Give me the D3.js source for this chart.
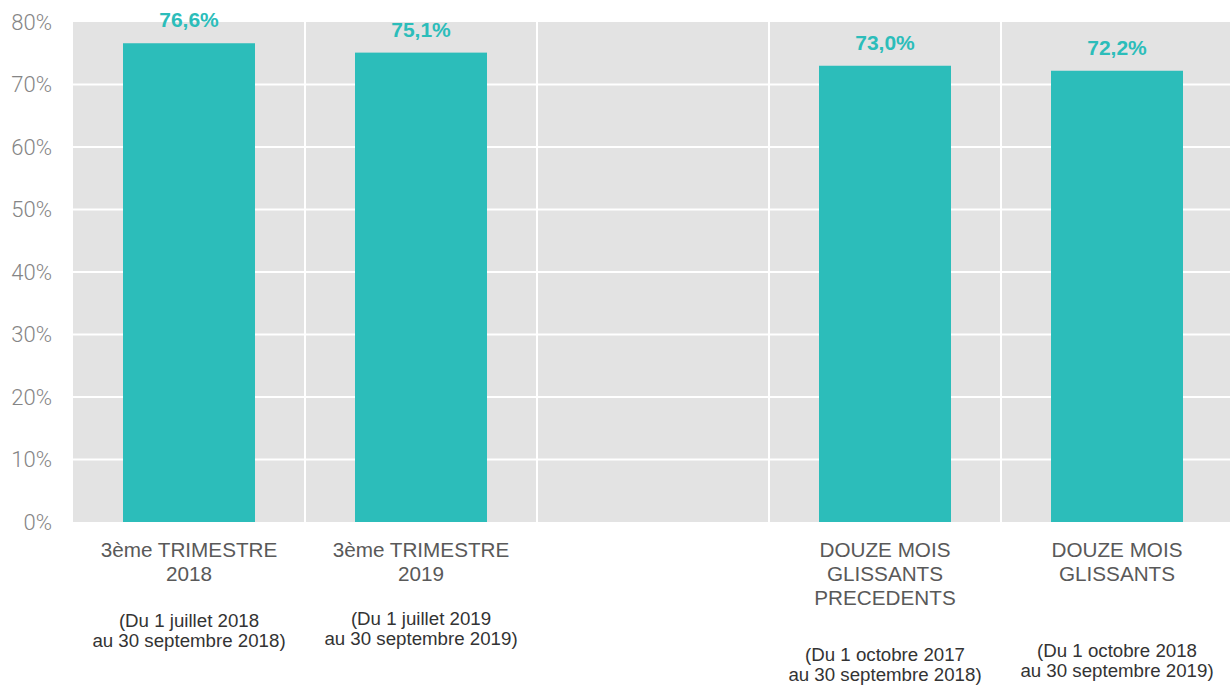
<!DOCTYPE html>
<html>
<head>
<meta charset="utf-8">
<script src="https://cdn.jsdelivr.net/npm/d3@7"></script>
<style>
  html, body { margin: 0; padding: 0; background: #fff; }
  svg { display: block; }
</style>
</head>
<body>
<svg id="chart" width="1230" height="686"></svg>
<script>
// ---- data ----
const categories = ["T3 2018", "T3 2019", "gap", "12M prec", "12M"];
const values = [76.6, 75.1, null, 73.0, 72.2];
const labelLines = [
  ["3ème TRIMESTRE", "2018"],
  ["3ème TRIMESTRE", "2019"],
  [],
  ["DOUZE MOIS", "GLISSANTS", "PRECEDENTS"],
  ["DOUZE MOIS", "GLISSANTS"]
];
const periodLines = [
  ["(Du 1 juillet 2018", "au 30 septembre 2018)"],
  ["(Du 1 juillet 2019", "au 30 septembre 2019)"],
  [],
  ["(Du 1 octobre 2017", "au 30 septembre 2018)"],
  ["(Du 1 octobre 2018", "au 30 septembre 2019)"]
];
const yTicks = [0, 10, 20, 30, 40, 50, 60, 70, 80];

// ---- layout ----
const plot = { left: 73, right: 1233, top: 22, bottom: 522 };
const periodBaseline = [627, 625, 0, 661, 657];

const svg = d3.select("#chart");

const x = d3.scaleBand()
  .domain(categories)
  .range([plot.left, plot.right])
  .paddingInner(100 / 232)
  .paddingOuter(50 / 232);

const y = d3.scaleLinear().domain([0, 80]).range([plot.bottom, plot.top]);

// background
svg.append("rect")
  .attr("x", plot.left).attr("y", plot.top)
  .attr("width", plot.right - plot.left).attr("height", plot.bottom - plot.top)
  .attr("fill", "#e3e3e3");

// horizontal gridlines
svg.append("g").selectAll("line")
  .data(yTicks.filter(d => d > 0 && d < 80))
  .join("line")
  .attr("x1", plot.left).attr("x2", plot.right)
  .attr("y1", d => y(d)).attr("y2", d => y(d))
  .attr("stroke", "#fff").attr("stroke-width", 2);

// vertical gridlines at band boundaries
const step = x.step();
svg.append("g").selectAll("line")
  .data(categories.slice(1))
  .join("line")
  .attr("x1", d => x(d) - x.paddingInner() * step / 2)
  .attr("x2", d => x(d) - x.paddingInner() * step / 2)
  .attr("y1", plot.top).attr("y2", plot.bottom)
  .attr("stroke", "#fff").attr("stroke-width", 2);

// y axis
const yAxis = d3.axisLeft(y)
  .tickValues(yTicks)
  .tickSize(0)
  .tickPadding(21)
  .tickFormat(d => d + "%");
const ga = svg.append("g")
  .attr("transform", `translate(${plot.left},0)`)
  .call(yAxis);
ga.select(".domain").remove();
ga.selectAll("text")
  .attr("font-family", "Roboto, sans-serif")
  .attr("font-weight", 300)
  .attr("font-size", 22)
  .attr("fill", "#858585");

// bars
const rows = categories.map((c, i) => ({ c, v: values[i], i }));
svg.append("g").selectAll("rect")
  .data(rows.filter(d => d.v != null))
  .join("rect")
  .attr("x", d => x(d.c))
  .attr("width", x.bandwidth())
  .attr("y", d => y(d.v))
  .attr("height", d => y(0) - y(d.v))
  .attr("fill", "#2cbdba");

// value labels
const fmt = d3.format(".1f");
svg.append("g").selectAll("text")
  .data(rows.filter(d => d.v != null))
  .join("text")
  .attr("x", d => x(d.c) + x.bandwidth() / 2)
  .attr("y", d => y(d.v) - 16)
  .attr("text-anchor", "middle")
  .attr("font-family", "'Liberation Sans', Arial, sans-serif")
  .attr("font-weight", "bold")
  .attr("font-size", 21)
  .attr("fill", "#2cbdba")
  .text(d => fmt(d.v).replace(".", ",") + "%");

// category labels
const catG = svg.append("g");
rows.forEach(d => {
  const cx = x(d.c) + x.bandwidth() / 2;
  labelLines[d.i].forEach((line, k) => {
    catG.append("text")
      .attr("x", cx).attr("y", 557 + k * 24)
      .attr("text-anchor", "middle")
      .attr("font-family", "'Liberation Sans', Arial, sans-serif")
      .attr("font-size", 20.7)
      .attr("fill", "#595959")
      .text(line);
  });
  periodLines[d.i].forEach((line, k) => {
    catG.append("text")
      .attr("x", cx).attr("y", periodBaseline[d.i] + k * 20)
      .attr("text-anchor", "middle")
      .attr("font-family", "'Liberation Sans', Arial, sans-serif")
      .attr("font-size", 18.7)
      .attr("fill", "#333333")
      .text(line);
  });
});
</script>
</body>
</html>
